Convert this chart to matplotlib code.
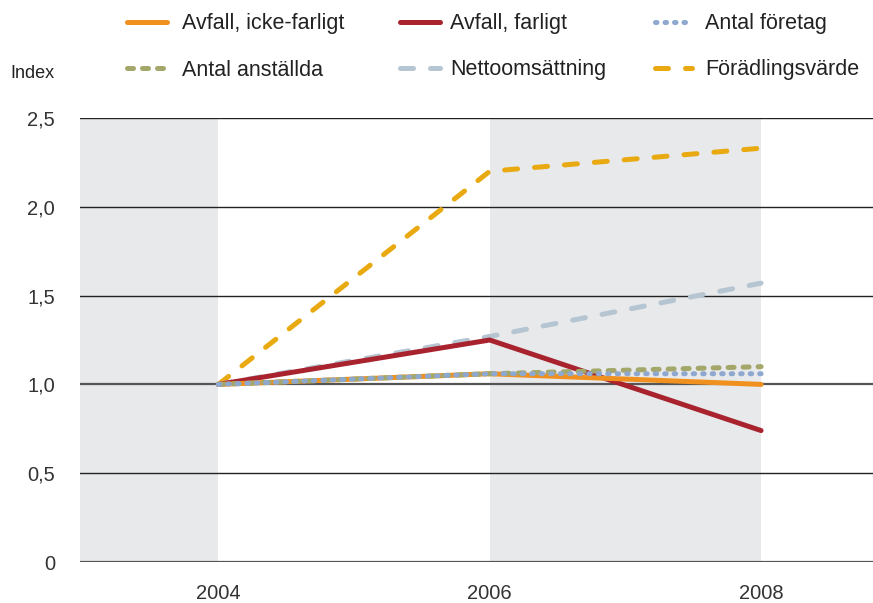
import matplotlib
matplotlib.use("Agg")
import matplotlib.pyplot as plt
from matplotlib.lines import Line2D

plt.rcParams['font.family'] = ['Liberation Sans', 'DejaVu Sans']

years = [2004, 2006, 2008]
icke_farligt = [1.0, 1.06, 1.0]
farligt = [1.0, 1.25, 0.74]
foretag = [1.0, 1.06, 1.06]
anstallda = [1.0, 1.06, 1.10]
netto = [1.0, 1.27, 1.57]
foradling = [1.0, 2.20, 2.33]

yticks = [0, 0.5, 1.0, 1.5, 2.0, 2.5]
yticklabels = ["0", "0,5", "1,0", "1,5", "2,0", "2,5"]
xticks = [2004, 2006, 2008]
xlim = (2002.98, 2008.825)
shade_spans = [(xlim[0], 2004), (2006, 2008)]

W, H = 873, 603
fig = plt.figure(figsize=(W/100, H/100), dpi=100)
ax = fig.add_axes([80/W, 41/H, 1 - 80/W, (562-118)/H])

for a, b in shade_spans:
    ax.axvspan(a, b, color='#e8e9eb', lw=0, zorder=0)

for y in yticks:
    if y in (0, 1.0):
        ax.axhline(y, color='#555555', lw=1.6, zorder=1)
    else:
        ax.axhline(y, color='#222222', lw=1.0, zorder=1)

lw = 3.6
styles = {
    'foradling': dict(color='#e8aa10', ls=(0, (2.6, 3.4)), dash_capstyle='round'),
    'netto': dict(color='#b5c5d2', ls=(0, (2.6, 3.4)), dash_capstyle='round'),
    'farligt': dict(color='#a8232e', ls='-', solid_capstyle='round'),
    'icke': dict(color='#f0901e', ls='-', solid_capstyle='round'),
    'anst': dict(color='#a3a86a', ls=(0, (1.2, 1.8)), dash_capstyle='round'),
    'foret': dict(color='#8ea8cf', ls=(0, (0.3, 1.6)), dash_capstyle='round'),
}

ax.plot(years, foradling, lw=lw, zorder=3, **styles['foradling'])
ax.plot(years, netto, lw=lw, zorder=3, **styles['netto'])
ax.plot(years, farligt, lw=lw, zorder=4, **styles['farligt'])
ax.plot(years, icke_farligt, lw=lw, zorder=4, **styles['icke'])
ax.plot(years, anstallda, lw=lw, zorder=5, **styles['anst'])
ax.plot(years, foretag, lw=lw, zorder=5, **styles['foret'])

ax.set_xlim(*xlim)
ax.set_ylim(0, 2.5)
ax.set_yticks(yticks)
ax.set_yticklabels(yticklabels)
ax.set_xticks(xticks)
ax.set_xticklabels([str(x) for x in xticks])
ax.tick_params(length=0, labelsize=14.5, colors='#333333')
ax.tick_params(axis='y', pad=18)
ax.tick_params(axis='x', pad=16)
for s in ax.spines.values():
    s.set_visible(False)

# legend, drawn manually in figure pixel positions
legend_items = [
    ('icke', 'Avfall, icke-farligt', 127, 167, 182, 22),
    ('farligt', 'Avfall, farligt', 400, 440, 450, 22),
    ('foret', 'Antal företag', 655, 692, 705, 22),
    ('anst', 'Antal anställda', 127, 167, 182, 68),
    ('netto', 'Nettoomsättning', 400, 440, 450, 68),
    ('foradling', 'Förädlingsvärde', 655, 692, 705, 68),
]
for key, label, x0, x1, xt, yy in legend_items:
    st = dict(styles[key])
    fig.add_artist(Line2D([x0/W, x1/W], [1 - yy/H, 1 - yy/H], lw=lw,
                          transform=fig.transFigure, **st))
    fig.text(xt/W, 1 - (yy + 2)/H, label, fontsize=15.5, va='center', ha='left',
             color='#222222')

fig.text(10/W, 1 - 73/H, 'Index', fontsize=13, va='center', ha='left', color='#222222')

fig.savefig('out.png', dpi=100)
